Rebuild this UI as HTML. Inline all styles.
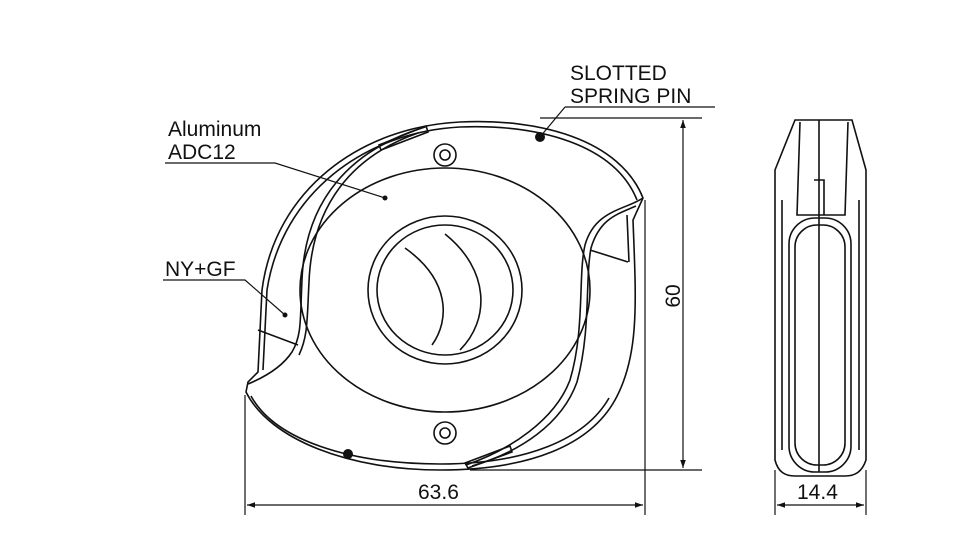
<!DOCTYPE html>
<html><head><meta charset="utf-8"><style>
html,body{margin:0;padding:0;background:#fff;}
svg{display:block;}
text{font-family:"Liberation Sans",sans-serif;font-size:21px;fill:#111;}
</style></head><body>
<svg width="960" height="540" viewBox="0 0 960 540" xmlns="http://www.w3.org/2000/svg">
<defs>
<marker id="a" viewBox="0 0 10 10" refX="10" refY="5" markerWidth="12" markerHeight="8" orient="auto-start-reverse" markerUnits="userSpaceOnUse"><path d="M0,1.5 L10,5 L0,8.5 z" fill="#111"/></marker>
</defs>
<g fill="none" stroke="#111" stroke-width="1.6">
<!-- outer body -->
<path d="M643,198 C620,140 540,118 460,122 C360,127 275,190 262,290 L258,372 L248,382 L246,392 C270,440 350,470 440,470 C530,470 590,445 615,400 C640,355 636,300 633,220 Z"/>
<path d="M637,200 C615,145 540,124 460,127 C365,132 282,193 267,290 L263,370"/>
<path d="M251,396 C275,440 350,464 440,464 C525,464 585,440 609,398"/>
<!-- right notch inner curve -->
<path d="M643,198 C625,210 595,210 585,245 C578,275 585,330 570,380 C555,420 510,450 466,465"/>
<path d="M636,206 C618,214 600,218 591,248 C585,280 591,330 577,382 C562,424 520,452 472,466"/>
<path d="M627,215 L629,262 M590,250 L628,262"/>
<!-- left inner curve -->
<path d="M425,127 C350,150 305,200 302,280 C300,320 302,335 292,352 C282,367 265,377 248,384"/>
<path d="M418,133 C352,156 312,205 309,282 C307,320 308,336 299,355"/>
<path d="M379,145 L426,126 L428,132 L381,150 Z"/>
<path d="M465,463 L510,446 L512,452 L468,468 Z"/>
<path d="M258,330 L298,345"/>
<!-- main disc -->
<ellipse cx="445" cy="290" rx="145" ry="122"/>
<ellipse cx="445" cy="290" rx="77" ry="74"/>
<ellipse cx="445" cy="290" rx="68" ry="65"/>
<path d="M405,248 C450,280 450,320 432,345"/>
<path d="M445,234 C490,270 490,320 460,350"/>
<!-- screws -->
<circle cx="445" cy="155" r="11"/><circle cx="445" cy="155" r="5"/>
<circle cx="445" cy="433" r="11"/><circle cx="445" cy="433" r="5"/>
<!-- side view -->
<path d="M795,120 L852,120 L866,170 L866,460 C862,472 855,476 845,476 L795,476 C785,476 778,472 775,460 L775,170 Z"/>
<path d="M800,122 L797,215 L845,215 L848,122"/>
<rect x="789" y="218" width="62" height="254" rx="26"/>
<rect x="795" y="225" width="50" height="240" rx="22"/>
<path d="M819,120 L819,472 M814,180 L824,180 L824,215"/>
<path d="M782,200 L782,450 M859,200 L859,450"/>
<!-- dimension lines -->
<g stroke-width="1.2">
<path d="M540,118 L702,118 M470,470 L702,470"/>
<path d="M683,120 L683,468" marker-start="url(#a)" marker-end="url(#a)"/>
<path d="M245,395 L245,515 M645,200 L645,515"/>
<path d="M247,505 L643,505" marker-start="url(#a)" marker-end="url(#a)"/>
<path d="M775,470 L775,515 M866,470 L866,515"/>
<path d="M777,505 L864,505" marker-start="url(#a)" marker-end="url(#a)"/>
<!-- leaders -->
<path d="M565,107 L715,107 M565,107 L540,137"/>
<path d="M165,163 L275,163 L385,198"/>
<path d="M163,280 L245,280 L285,315"/>
</g>
</g>
<g fill="#111">
<circle cx="540" cy="137" r="5"/>
<circle cx="348" cy="454" r="5"/>
<circle cx="385" cy="198" r="2.5"/>
<circle cx="285" cy="315" r="2.5"/>
</g>
<text x="570" y="80">SLOTTED</text>
<text x="570" y="103">SPRING  PIN</text>
<text x="168" y="136">Aluminum</text>
<text x="168" y="159">ADC12</text>
<text x="165" y="276">NY+GF</text>
<text x="418" y="499">63.6</text>
<text x="797" y="499">14.4</text>
<text transform="translate(680,296) rotate(-90)" text-anchor="middle">60</text>
</svg>
</body></html>
